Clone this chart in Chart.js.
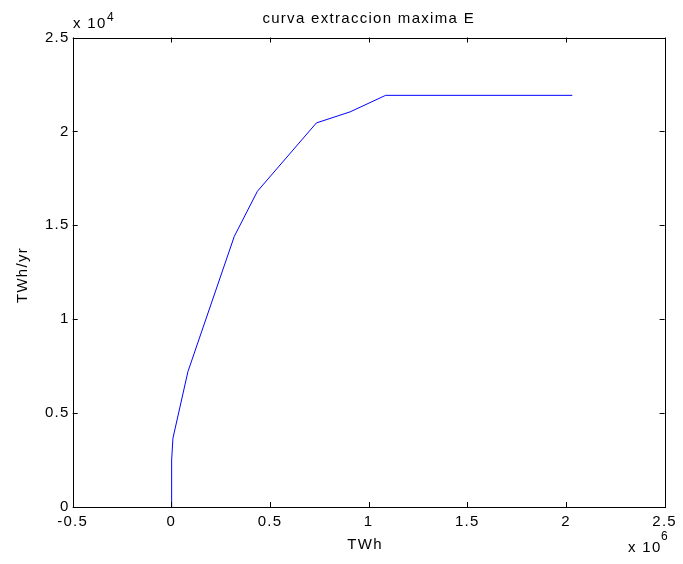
<!DOCTYPE html>
<html>
<head>
<meta charset="utf-8">
<script src="https://cdn.jsdelivr.net/npm/chart.js@4.4.1/dist/chart.umd.min.js"></script>
<style>
html,body{margin:0;padding:0;background:#fff;}
#wrap{position:relative;width:683px;height:564px;}
</style>
</head>
<body>
<div id="wrap"><canvas id="c" width="683" height="564"></canvas></div>
<script>
// Data (x in TWh, y in TWh/yr)
const xValues = [0, 0, 3000, 8000, 84000, 319000, 436000, 735000, 906000, 1086000, 2032000];
const yValues = [0, 1500, 2500, 3660, 7210, 14410, 16810, 20450, 21040, 21920, 21920];
const titleText = 'curva extraccion maxima E';
const xLabel = 'TWh';
const yLabel = 'TWh/yr';
const xExponent = '6';
const yExponent = '4';

const FONT = '"Liberation Sans", Arial, Helvetica, sans-serif';
const SPACING = '1.3px';
const points = xValues.map((x, i) => ({x: x, y: yValues[i]}));

const spacingPlugin = {
  id: 'spacing',
  beforeInit(chart) { chart.ctx.letterSpacing = SPACING; },
  beforeUpdate(chart) { chart.ctx.letterSpacing = SPACING; },
  beforeLayout(chart) { chart.ctx.letterSpacing = SPACING; },
  beforeDraw(chart) { chart.ctx.letterSpacing = SPACING; }
};

const matlabPlugin = {
  id: 'matlab',
  afterDraw(chart) {
    const ctx = chart.ctx;
    const a = chart.chartArea;
    const xs = chart.scales.x, ys = chart.scales.y;
    ctx.save();
    ctx.letterSpacing = SPACING;
    ctx.strokeStyle = '#000';
    ctx.lineWidth = 1;
    // box
    ctx.strokeRect(Math.round(a.left) + 0.5, Math.round(a.top) + 0.5,
      Math.round(a.right) - Math.round(a.left), Math.round(a.bottom) - Math.round(a.top));
    // inward ticks
    const tl = 5;
    ctx.beginPath();
    xs.ticks.forEach(t => {
      const px = Math.round(xs.getPixelForValue(t.value)) + 0.5;
      ctx.moveTo(px, a.bottom); ctx.lineTo(px, a.bottom - tl);
      ctx.moveTo(px, a.top); ctx.lineTo(px, a.top + tl);
    });
    ys.ticks.forEach(t => {
      const py = Math.round(ys.getPixelForValue(t.value)) + 0.5;
      ctx.moveTo(a.left, py); ctx.lineTo(a.left + tl, py);
      ctx.moveTo(a.right, py); ctx.lineTo(a.right - tl, py);
    });
    ctx.stroke();
    // texts
    ctx.fillStyle = '#000';
    ctx.font = '15px ' + FONT;
    ctx.textAlign = 'center';
    ctx.textBaseline = 'alphabetic';
    ctx.fillText(titleText, (a.left + a.right) / 2, 23);
    ctx.fillText(xLabel, 365, 549);
    ctx.save();
    ctx.translate(27, 275);
    ctx.rotate(-Math.PI / 2);
    ctx.fillText(yLabel, 0, 0);
    ctx.restore();
    // multipliers
    ctx.textAlign = 'left';
    ctx.fillText('x 10', 73, 28);
    ctx.font = '12px ' + FONT;
    ctx.fillText(yExponent, 107, 21);
    ctx.font = '15px ' + FONT;
    ctx.fillText('x 10', 628, 552);
    ctx.font = '12px ' + FONT;
    ctx.fillText(xExponent, 661, 540);
    ctx.restore();
  }
};

new Chart(document.getElementById('c'), {
  type: 'scatter',
  data: {
    datasets: [{
      data: points,
      showLine: true,
      borderColor: '#0000ff',
      borderWidth: 1,
      pointRadius: 0,
      fill: false,
      tension: 0
    }]
  },
  options: {
    responsive: false,
    animation: false,
    devicePixelRatio: 1,
    layout: {padding: {left: 0, top: 37.5, right: 14.5, bottom: 0}},
    plugins: {legend: {display: false}, tooltip: {enabled: false}, title: {display: false}},
    scales: {
      x: {
        type: 'linear', min: -500000, max: 2500000,
        grid: {display: false, drawTicks: false},
        border: {display: false},
        ticks: {
          stepSize: 500000, padding: 6, color: '#000', maxRotation: 0,
          font: {family: FONT, size: 15},
          callback: v => String(Math.round(v / 1e5) / 10)
        },
        afterFit: s => { s.height = 57; }
      },
      y: {
        type: 'linear', min: 0, max: 25000,
        grid: {display: false, drawTicks: false},
        border: {display: false},
        ticks: {
          stepSize: 5000, padding: 3, color: '#000',
          font: {family: FONT, size: 15},
          callback: v => String(Math.round(v / 1e3) / 10)
        },
        afterFit: s => { s.width = 72.7; }
      }
    }
  },
  plugins: [spacingPlugin, matlabPlugin]
});
</script>
</body>
</html>
